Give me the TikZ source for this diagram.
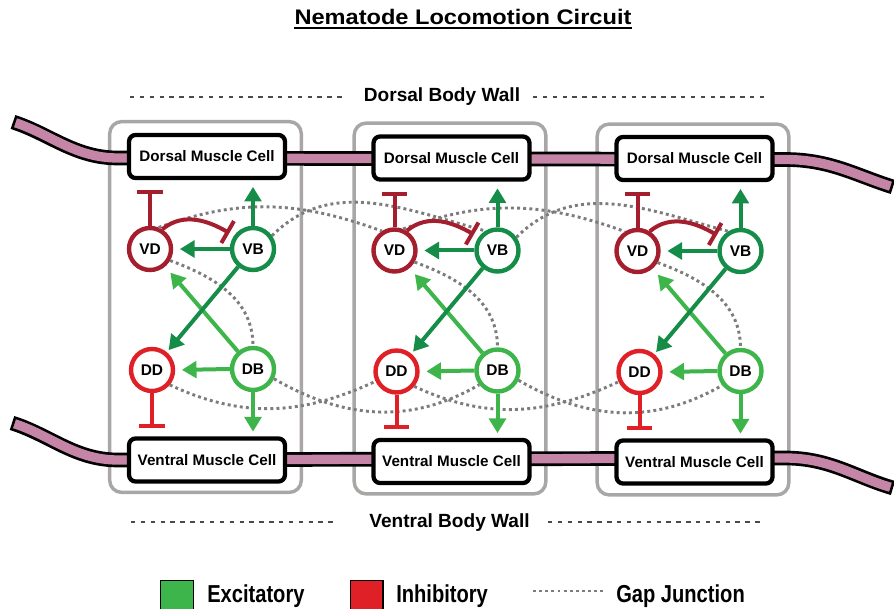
\documentclass[tikz,border=0pt]{standalone}
\usepackage{fontspec}
\setmainfont{Liberation Sans}
\newfontfamily\titlefont[FakeStretch=1.12]{Liberation Sans}
\newfontfamily\legendfont[FakeStretch=0.82]{Liberation Sans}
\usetikzlibrary{arrows.meta}

\definecolor{vdred}{HTML}{A41E2D}
\definecolor{ddred}{HTML}{E02027}
\definecolor{vbgreen}{HTML}{158D49}
\definecolor{dbgreen}{HTML}{3EB54A}
\definecolor{bandpink}{HTML}{C585A6}
\definecolor{framegray}{HTML}{A9A7A5}
\definecolor{gapgray}{HTML}{7C7C7C}
\definecolor{wallgray}{HTML}{4A4A4A}

\begin{document}
\begin{tikzpicture}[x=0.75pt, y=0.75pt,
  modframe/.style={draw=framegray, line width=2.6pt, rounded corners=9pt},
  muscle/.style={draw=black, fill=white, line width=3.2pt, rounded corners=5pt,
    minimum width=117pt, minimum height=32.3pt, inner sep=0pt,
    font=\fontsize{11.4}{13}\selectfont\bfseries},
  neuron/.style={circle, fill=white, line width=3.3pt, minimum size=31.5pt,
    inner sep=0pt, font=\fontsize{11.6}{13}\selectfont\bfseries},
  exc/.style={line width=3pt, -{Triangle[length=11pt,width=12.5pt]}},
  inh/.style={line width=3pt, -{Bar[width=19pt]}},
  gapjn/.style={draw=gapgray, line width=2.2pt, dash pattern=on 2.2pt off 2.4pt},
  wall/.style={draw=wallgray, line width=2.2pt, dash pattern=on 3.3pt off 4.1pt},
  bandline/.style={line width=11pt, draw=black},
  bandfill/.style={line width=7pt, draw=bandpink, shorten <=2pt, shorten >=2pt},
  walltext/.style={inner sep=0pt, anchor=base, font=\fontsize{14.3}{16}\selectfont\bfseries},
  legtext/.style={inner sep=0pt, anchor=base west, font=\legendfont\fontsize{18.4}{20}\selectfont\bfseries},
  legsq/.style={draw=black, line width=1.1pt, minimum size=24.4pt, inner sep=0pt},
]
\useasboundingbox (0,0) rectangle (894,608);
\clip (0,0) rectangle (894,608);

% title
\node[inner sep=0pt, anchor=base, font=\titlefont\fontsize{15.8}{18}\selectfont\bfseries]
  (title) at (463,583) {Nematode Locomotion Circuit};
\draw[line width=1.5pt] ([yshift=-2.5pt]title.base west) -- ([yshift=-2.5pt]title.base east);

% body wall labels with dashed rules
\node[walltext] (dwall) at (442,506) {Dorsal Body Wall};
\coordinate (dwl1) at (130,511); \coordinate (dwl2) at (347,511);
\coordinate (dwr1) at (533,511); \coordinate (dwr2) at (764,511);
\draw[wall] (dwl1) -- (dwl2);
\draw[wall] (dwr1) -- (dwr2);

\node[walltext] (vwall) at (449.5,80) {Ventral Body Wall};
\coordinate (vwl1) at (131,86); \coordinate (vwl2) at (335,86);
\coordinate (vwr1) at (548,86); \coordinate (vwr2) at (764,86);
\draw[wall] (vwl1) -- (vwl2);
\draw[wall] (vwr1) -- (vwr2);

% segment frames
\foreach \m/\dx/\dy in {1/0/0, 2/244.5/-1.5, 3/487.5/-2.5} {
  \begin{scope}[shift={(\dx,\dy)}]
    \draw[modframe] (109.7,115.6) rectangle (301.3,486.4);
  \end{scope}
}

% dorsal and ventral body bands
\draw[bandline] (13,486) .. controls (50,474) and (75,450) .. (118,450) -- (785,448.5)
  .. controls (830,448.5) and (855,433) .. (893,421);
\draw[bandfill] (13,486) .. controls (50,474) and (75,450) .. (118,450) -- (785,448.5)
  .. controls (830,448.5) and (855,433) .. (893,421);
\draw[bandline] (12,185) .. controls (50,173) and (75,148) .. (118,148) -- (785,150)
  .. controls (830,150) and (855,131) .. (893,120);
\draw[bandfill] (12,185) .. controls (50,173) and (75,148) .. (118,148) -- (785,150)
  .. controls (830,150) and (855,131) .. (893,120);

% muscle cells and motor neurons
\foreach \m/\dx/\dy in {1/0/0, 2/244.5/-1.5, 3/487.5/-2} {
  \begin{scope}[shift={(\dx,\dy)}]
    \node[muscle] (DM\m) at (207,451.5) {Dorsal Muscle Cell};
    \node[muscle] (VM\m) at (207,148) {Ventral Muscle Cell};
    \node[neuron, draw=vdred] (VD\m) at (150,359) {VD};
    \node[neuron, draw=vbgreen] (VB\m) at (253,359) {VB};
    \node[neuron, draw=ddred] (DD\m) at (152,238) {DD};
    \node[neuron, draw=dbgreen] (DB\m) at (253,239) {DB};
  \end{scope}
}

% gap junctions
\foreach \m in {1,2,3} {
  \draw[gapjn] (VD\m.-30) to[out=-20, in=90] (DB\m.90);
}
\foreach \a/\b in {1/2, 2/3} {
  \draw[gapjn] (VD\a.68) to[out=20, in=160] (VD\b.123);
  \draw[gapjn] (VB\a.35) to[out=45, in=165] (VB\b.122);
  \draw[gapjn] (DD\a.-40) to[out=-25, in=205] (DD\b.205);
  \draw[gapjn] (DB\a.-25) to[out=-30, in=210] (DB\b.218);
}

% synapses
\foreach \m in {1,2,3} {
  \draw[exc, dbgreen, shorten >=6pt] (DB\m) -- (VD\m);
  \draw[exc, dbgreen, shorten >=5pt] (DB\m.west) -- (DD\m.east);
  \draw[exc, dbgreen, shorten >=3.5pt] (DB\m.south) -- (DB\m.south |- VM\m.north);
  \draw[exc, vbgreen, shorten >=2pt] (VB\m) -- (DD\m);
  \draw[exc, vbgreen, shorten >=5pt] (VB\m.west) -- (VD\m.east);
  \draw[exc, vbgreen, shorten >=5pt] (VB\m.north) -- (VB\m.north |- DM\m.south);
  \draw[inh, vdred, shorten >=7.5pt] (VD\m.north) -- (VD\m.north |- DM\m.south);
  \draw[inh, vdred, shorten >=4pt] (VD\m.58) to[out=40, in=150] (VB\m.145);
  \draw[inh, ddred, shorten >=6.5pt] (DD\m.south) -- (DD\m.south |- VM\m.north);
}

% legend
\node[legsq, fill=dbgreen] (legexc) at (177,11) {};
\node[legtext] (txtexc) at (207,6) {Excitatory};
\node[legsq, fill=ddred] (leginh) at (366.5,11) {};
\node[legtext] (txtinh) at (396,6) {Inhibitory};
\coordinate (leggap1) at (533,17); \coordinate (leggap2) at (604,17);
\draw[gapjn] (leggap1) -- (leggap2);
\node[legtext] (txtgap) at (616,6) {Gap Junction};
\end{tikzpicture}
\end{document}
